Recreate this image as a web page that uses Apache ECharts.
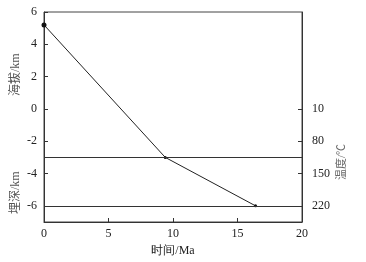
<!DOCTYPE html>
<html>
<head>
<meta charset="utf-8">
<script src="https://cdn.jsdelivr.net/npm/echarts@6/dist/echarts.min.js"></script>
<style>
  html, body { margin: 0; padding: 0; background: #fff; }
  #main { width: 366px; height: 262px; }
</style>
</head>
<body>
<div id="main"></div>
<script>
// burial history path (time Ma, elevation/depth km)
const timeMa = [0, 9.4, 16.4];
const depthKm = [5.2, -3, -6];
const refLevels = [-3, -6];
const depthTicks = [-6, -4, -2, 0, 2, 4, 6];
const tempTicks = [10, 80, 150, 220];

const font = "Liberation Serif";
const ink = "#222";

var chartDom = document.getElementById("main");
var myChart = echarts.init(chartDom);
var option;

option = {
  backgroundColor: "#fff",
  animation: false,
  grid: {
    left: 44,
    right: 64,
    top: 12,
    bottom: 40,
    show: true,
    borderColor: "#444",
    borderWidth: 1,
  },
  xAxis: {
    type: "value",
    min: 0,
    max: 20,
    interval: 5,
    name: "时间/Ma",
    nameLocation: "middle",
    nameGap: 23,
    nameTextStyle: { fontFamily: font, fontSize: 12, color: ink },
    axisLine: { onZero: false, lineStyle: { color: "#333" } },
    axisTick: { inside: true, length: 4, lineStyle: { color: "#333" } },
    axisLabel: { fontFamily: font, fontSize: 12, color: ink, margin: 6 },
    splitLine: { show: false },
  },
  yAxis: [
    {
      type: "value",
      min: -7,
      max: 6,
      axisLine: { show: true, onZero: false, lineStyle: { color: "#333" } },
      axisTick: {
        inside: true,
        length: 4,
        customValues: depthTicks,
        lineStyle: { color: "#333" },
      },
      axisLabel: {
        fontFamily: font,
        fontSize: 12,
        color: ink,
        margin: 7,
        customValues: depthTicks,
        formatter: function (v) {
          return v < 0 ? "-" + Math.abs(v) : String(v);
        },
      },
      splitLine: { show: false },
    },
    {
      type: "value",
      position: "right",
      inverse: true,
      min: -200,
      max: 255,
      axisLine: { show: true, onZero: false, lineStyle: { color: "#333" } },
      axisTick: {
        inside: true,
        length: 4,
        customValues: tempTicks,
        lineStyle: { color: "#333" },
      },
      axisLabel: {
        fontFamily: font,
        fontSize: 12,
        color: ink,
        margin: 10,
        customValues: tempTicks,
      },
      splitLine: { show: false },
    },
  ],
  series: [
    {
      type: "line",
      data: timeMa.map(function (t, i) {
        // first point is drawn a bit heavier, as in the scan
        return { value: [t, depthKm[i]], symbolSize: i === 0 ? 5 : 3 };
      }),
      symbol: "circle",
      itemStyle: { color: "#111" },
      lineStyle: { color: "#222", width: 1 },
      markLine: {
        silent: true,
        symbol: "none",
        label: { show: false },
        lineStyle: { color: "#333", type: "solid", width: 1 },
        data: refLevels.map(function (v) {
          return { yAxis: v };
        }),
      },
    },
  ],
  // vertical axis captions placed as rotated text
  graphic: [
    {
      type: "text",
      x: 10,
      y: 96,
      rotation: Math.PI / 2,
      style: {
        text: "海拔/km",
        font: "12px '" + font + "', 'Noto Sans CJK SC'",
        fill: "#555",
      },
    },
    {
      type: "text",
      x: 10,
      y: 214,
      rotation: Math.PI / 2,
      style: {
        text: "埋深/km",
        font: "12px '" + font + "', 'Noto Sans CJK SC'",
        fill: "#555",
      },
    },
    {
      type: "text",
      x: 337,
      y: 180,
      rotation: Math.PI / 2,
      style: {
        text: "温度/℃",
        font: "11px '" + font + "', 'Noto Sans CJK SC'",
        fill: "#666",
      },
    },
  ],
};

myChart.setOption(option);
</script>
</body>
</html>
